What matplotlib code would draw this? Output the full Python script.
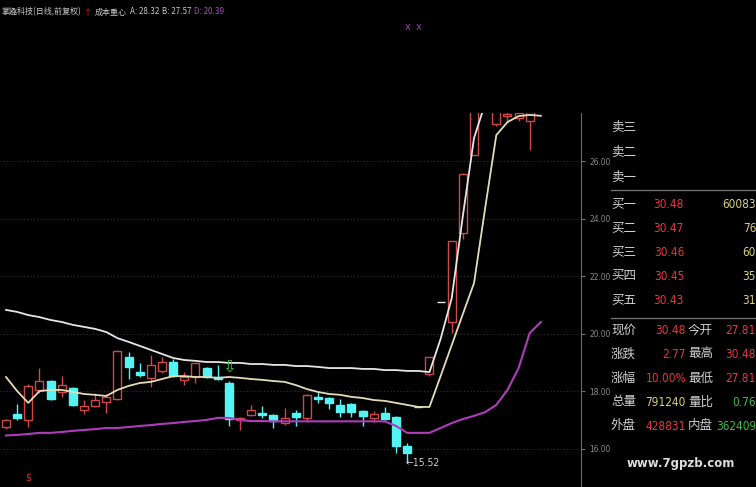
import matplotlib
matplotlib.use('Agg')
import matplotlib.pyplot as plt
import matplotlib.transforms as mtransforms
import numpy as np

plt.rcParams['font.family'] = ['Noto Sans CJK SC', 'DejaVu Sans']

# daily candles (price)
opens = [16.78, 17.2, 17.0, 18.05, 18.36, 17.98, 18.12, 17.35, 17.49, 17.63,
         17.74, 19.19, 18.67, 18.47, 18.7, 19.02, 18.4, 18.5, 18.81, 18.5,
         18.29, 17.0, 17.18, 17.25, 17.18, 16.9, 17.25, 17.08, 17.8, 17.77,
         17.53, 17.56, 17.32, 17.08, 17.25, 17.11, 16.1, 17.45, 18.6, 21.12,
         20.41, 23.5, 26.2, 28.3, 27.28, 27.55, 27.5, 27.39, 27.81]
highs = [17.05, 17.56, 18.25, 18.81, 18.4, 18.53, 18.15, 17.7, 17.94, 17.9,
         19.45, 19.37, 19.0, 19.26, 19.2, 19.12, 18.67, 19.0, 18.85, 18.92,
         18.35, 17.1, 17.53, 17.5, 17.2, 17.42, 17.35, 17.9, 17.98, 17.8,
         17.74, 17.58, 17.35, 17.32, 17.46, 17.15, 16.2, 17.45, 19.2, 21.12,
         23.23, 25.6, 28.1, 30.5, 29.8, 28.0, 28.0, 27.9, 30.48]
lows = [16.7, 17.0, 16.76, 17.95, 17.7, 17.8, 17.5, 17.2, 17.45, 17.25,
        17.7, 18.43, 18.5, 18.15, 18.64, 18.5, 18.22, 18.29, 18.45, 18.4,
        16.8, 16.66, 17.15, 17.08, 16.73, 16.85, 16.8, 16.95, 17.6, 17.39,
        17.1, 17.1, 16.8, 16.94, 17.0, 15.86, 15.52, 17.45, 18.55, 21.12,
        20.03, 23.3, 26.2, 28.0, 27.2, 27.35, 27.4, 26.38, 27.81]
closes = [17.0, 17.07, 18.19, 18.36, 17.74, 18.22, 17.53, 17.5, 17.7, 17.8,
          19.4, 18.85, 18.57, 18.92, 19.02, 18.53, 18.5, 18.98, 18.5, 18.43,
          17.04, 17.08, 17.35, 17.18, 16.97, 17.08, 17.1, 17.88, 17.74, 17.6,
          17.29, 17.29, 17.15, 17.22, 17.04, 16.1, 15.86, 17.45, 19.2, 21.12,
          23.23, 25.55, 28.1, 30.0, 29.5, 27.62, 27.65, 27.71, 30.48]

# 成本重心 lines
line_a = [20.83, 20.76, 20.65, 20.58, 20.48, 20.41, 20.31, 20.24, 20.17, 20.06,
          19.85, 19.72, 19.58, 19.44, 19.3, 19.16, 19.09, 19.06, 19.02, 19.02,
          18.99, 18.99, 18.95, 18.95, 18.92, 18.92, 18.88, 18.88, 18.85, 18.81,
          18.81, 18.81, 18.78, 18.78, 18.74, 18.74, 18.71, 18.71, 18.67, 19.82,
          21.24, 24.1, 26.8, 28.0, 28.15, 28.25, 28.3, 28.31, 28.32]
line_b = [18.5, 18.01, 17.6, 18.01, 18.05, 18.05, 17.98, 17.91, 17.88, 17.84,
          18.05, 18.19, 18.29, 18.33, 18.43, 18.53, 18.53, 18.5, 18.5, 18.47,
          18.5, 18.47, 18.43, 18.4, 18.36, 18.33, 18.22, 18.08, 17.98, 17.91,
          17.88, 17.81, 17.77, 17.7, 17.67, 17.6, 17.53, 17.46, 17.46, 18.53,
          19.61, 20.69, 21.76, 24.37, 26.9, 27.35, 27.56, 27.6, 27.57]
line_d = [16.47, 16.49, 16.52, 16.56, 16.56, 16.59, 16.63, 16.66, 16.69, 16.73,
          16.73, 16.76, 16.8, 16.83, 16.87, 16.9, 16.94, 16.97, 17.01, 17.08,
          17.08, 17.01, 16.97, 16.97, 16.96, 16.96, 16.96, 16.96, 16.96, 16.96,
          16.96, 16.96, 16.96, 16.96, 16.96, 16.8, 16.56, 16.56, 16.56, 16.73,
          16.9, 17.04, 17.15, 17.28, 17.53, 18.05, 18.81, 20.03, 20.41]

price_ticks = [16, 18, 20, 22, 24, 26]
x_marks = [36, 37]
s_marks = [2]
arrow_idx, arrow_price = 20, 18.85
low_idx, low_price = 36, 15.52

title_parts = [('掌趣科技(日线,前复权)', '#c8c8c8'), ('↑', '#ff2020'), ('成本重心', '#c8c8c8'),
               ('A: 28.32', '#c8c8c8'), ('B: 27.57', '#c8c8c8'), ('D: 20.39', '#a44cc0')]

# right-side quote panel
ask_labels = ['卖三', '卖二', '卖一']
bid_labels = ['买一', '买二', '买三', '买四', '买五']
bid_prices = ['30.48', '30.47', '30.46', '30.45', '30.43']
bid_vols = ['60083', '76', '60', '35', '31']
info_left = ['现价', '涨跌', '涨幅', '总量', '外盘']
info_left_vals = ['30.48', '2.77', '10.00%', '791240', '428831']
info_right = ['今开', '最高', '最低', '量比', '内盘']
info_right_vals = ['27.81', '30.48', '27.81', '0.76', '362409']

RED = '#e8383c'
YEL = '#d8d27a'
GRN = '#3cc03c'
LBL = '#d0d0d0'
info_left_cols = [RED, RED, RED, YEL, RED]
info_right_cols = [RED, RED, RED, GRN, GRN]

W, H = 756, 487
def fx(x):
    return x / W
def fy(y):
    return 1 - y / H

fig = plt.figure(figsize=(W / 100, H / 100), dpi=100, facecolor='black')
ax = fig.add_axes([0, 0, 581 / W, (H - 113) / H], facecolor='black')

n = len(opens)
xs = np.arange(n)
o = np.array(opens); c = np.array(closes); hi = np.array(highs); lo = np.array(lows)
cols = np.where(c > o, '#d04848', np.where(c < o, '#54f4f4', '#e8e8e8'))
faces = np.where(c > o, 'black', np.where(c < o, '#54f4f4', '#e8e8e8'))

ax.vlines(xs, lo, hi, colors=cols, lw=1, zorder=2)
ax.bar(xs, np.abs(c - o), bottom=np.minimum(o, c), width=0.72,
       color=faces, edgecolor=cols, lw=1, zorder=3)

ax.plot(xs, line_a, color='#e6e6e6', lw=1.3, zorder=4)
ax.plot(xs, line_b, color='#e4dcb8', lw=1.3, zorder=4)
ax.plot(xs, line_d, color='#b03cbc', lw=1.5, zorder=4)

ax.text(arrow_idx, arrow_price, '⇩', color='#40c040', ha='center', va='center',
        fontsize=12, family='DejaVu Sans', zorder=5)
ax.text(low_idx - 0.15, low_price, '←15.52', color='#c8c8c8', ha='left', va='center',
        fontsize=7.5, family='DejaVu Sans', stretch='condensed')

trans = mtransforms.blended_transform_factory(ax.transData, fig.transFigure)
for i in x_marks:
    ax.text(i, fy(27), 'x', color='#9a40b0', ha='center', va='center',
            fontsize=7, transform=trans, family='DejaVu Sans')
for i in s_marks:
    ax.text(i, fy(478), '$', color='#d03030', ha='center', va='center',
            fontsize=7, transform=trans, family='DejaVu Sans')

ax.set_xlim(-0.54, 51.6)
ax.set_ylim(14.68, 27.667)
for yv in price_ticks:
    ax.axhline(yv, color='#3a3232', lw=0.8, ls=(0, (1, 2)), zorder=1)

ax.yaxis.tick_right()
ax.set_yticks(price_ticks)
ax.set_yticklabels([f'{v:.2f}' for v in price_ticks], color='#8a8a8a',
                   fontsize=6, family='DejaVu Sans', stretch='condensed')
ax.tick_params(axis='y', direction='out', length=3, color='#707070', pad=3)
ax.set_xticks([])
for s in ['top', 'left', 'bottom']:
    ax.spines[s].set_visible(False)
ax.spines['right'].set_color('#6a6a6a')

# title line, laid out left to right
renderer = fig.canvas.get_renderer()
xcur = 1
for txt, col in title_parts:
    t = fig.text(fx(xcur), fy(12), txt, color=col, fontsize=5.8, va='center')
    xcur = t.get_window_extent(renderer).x1 + 3

# quote panel
num_kw = dict(fontsize=8.5, va='center', ha='right', family='DejaVu Sans', stretch='condensed')
for k, lab in enumerate(ask_labels):
    fig.text(fx(611), fy(127 + 25 * k), lab, color=LBL, fontsize=9, va='center')
for k, lab in enumerate(bid_labels):
    y = 204 + 24 * k
    fig.text(fx(611), fy(y), lab, color=LBL, fontsize=9, va='center')
    fig.text(fx(684), fy(y), bid_prices[k], color=RED, **num_kw)
    fig.text(fx(756), fy(y), bid_vols[k], color=YEL, **num_kw)
for k in range(len(info_left)):
    y = 330 + 24 * k
    fig.text(fx(611), fy(y), info_left[k], color=LBL, fontsize=9, va='center')
    fig.text(fx(686), fy(y), info_left_vals[k], color=info_left_cols[k], **num_kw)
    fig.text(fx(688), fy(y), info_right[k], color=LBL, fontsize=9, va='center')
    fig.text(fx(756), fy(y), info_right_vals[k], color=info_right_cols[k], **num_kw)

for yl in [190, 318]:
    fig.add_artist(plt.Line2D([fx(611), 1], [fy(yl), fy(yl)], color='#6e6e6e', lw=1))

fig.text(fx(681), fy(463), 'www.7gpzb.com', color='#dcdcdc', fontsize=8.5,
         weight='bold', ha='center', va='center', family='DejaVu Sans')

fig.savefig('out.png', dpi=100, facecolor='black')
